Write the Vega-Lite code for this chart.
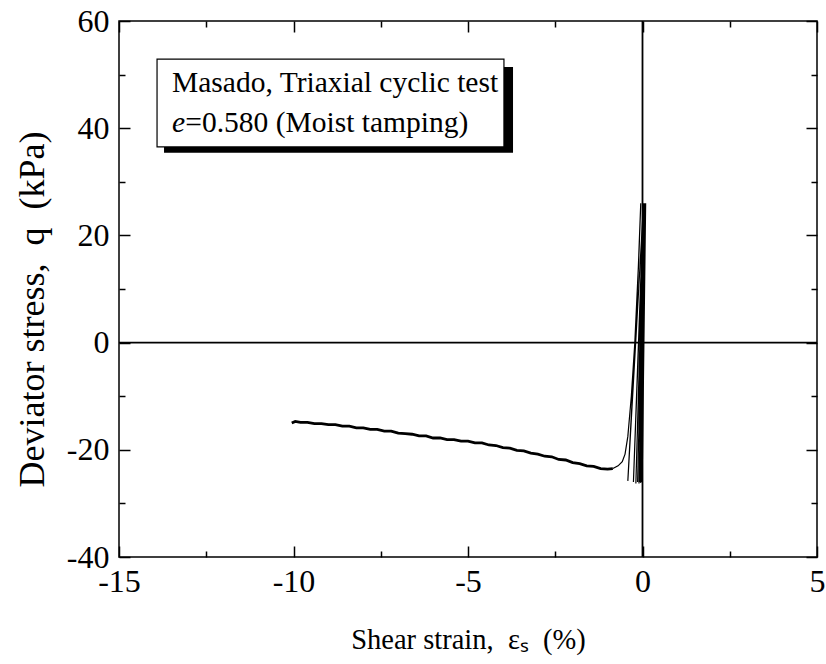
{
  "$schema": "https://vega.github.io/schema/vega-lite/v6.json",
  "width": 698,
  "height": 536,
  "autosize": "none",
  "padding": {"left": 119, "top": 21, "right": 9, "bottom": 107},
  "background": "white",
  "config": {
    "view": {"stroke": "black", "strokeWidth": 1.5},
    "font": "Liberation Serif",
    "axis": {
      "labelFont": "Liberation Serif",
      "titleFont": "Liberation Serif",
      "labelFontSize": 32,
      "titleFontSize": 28.5,
      "titleFontWeight": "normal",
      "labelColor": "black",
      "titleColor": "black",
      "grid": false,
      "domain": false,
      "tickColor": "black",
      "tickWidth": 1.5,
      "labelOverlap": false,
      "labelFlush": false
    }
  },
  "datasets": {
    "shadow": [{"x0": -13.71, "x1": -3.71, "q0": 35.4, "q1": 51.4}],
    "box": [{"x0": -13.91, "x1": -3.97, "q0": 36.5, "q1": 52.9}],
    "labels": [
      {"tx": -13.48, "ty": 46.75, "label": "Masado, Triaxial cyclic test"},
      {"tx": -13.1, "ty": 39.3, "label": "=0.580 (Moist tamping)"}
    ],
    "italic": [{"tx": -13.48, "ty": 39.3, "label": "e"}],
    "cyc": [
      {"i": 0, "eps": 0.0, "q": 0.0},
      {"i": 1, "eps": 0.09, "q": 26.0},
      {"i": 2, "eps": -0.01, "q": -26.0},
      {"i": 3, "eps": 0.09, "q": 26.0},
      {"i": 4, "eps": -0.03, "q": -26.0},
      {"i": 5, "eps": 0.08, "q": 26.0},
      {"i": 6, "eps": -0.05, "q": -26.2},
      {"i": 7, "eps": 0.08, "q": 26.0},
      {"i": 8, "eps": -0.07, "q": -26.0},
      {"i": 9, "eps": 0.07, "q": 26.0},
      {"i": 10, "eps": -0.1, "q": -26.3},
      {"i": 11, "eps": 0.06, "q": 26.0},
      {"i": 12, "eps": -0.14, "q": -26.0},
      {"i": 13, "eps": 0.05, "q": 26.0},
      {"i": 14, "eps": -0.19, "q": -26.3},
      {"i": 15, "eps": 0.04, "q": 26.0},
      {"i": 16, "eps": -0.26, "q": -26.0},
      {"i": 17, "eps": 0.03, "q": 26.0},
      {"i": 18, "eps": -0.42, "q": -25.8},
      {"i": 19, "eps": -0.25, "q": -5.0},
      {"i": 20, "eps": -0.11, "q": 15.0},
      {"i": 21, "eps": -0.05, "q": 26.0},
      {"i": 22, "eps": -0.12, "q": 14.0},
      {"i": 23, "eps": -0.22, "q": 0.0},
      {"i": 24, "eps": -0.32, "q": -10.0},
      {"i": 25, "eps": -0.42, "q": -17.5},
      {"i": 26, "eps": -0.5, "q": -20.8},
      {"i": 27, "eps": -0.58, "q": -22.2},
      {"i": 28, "eps": -0.7, "q": -23.0},
      {"i": 29, "eps": -0.85, "q": -23.5}
    ],
    "run": [
      {"i": 0, "eps": -0.85, "q": -23.5},
      {"i": 1, "eps": -1.0, "q": -23.6},
      {"i": 2, "eps": -1.2, "q": -23.5},
      {"i": 3, "eps": -1.4, "q": -23.1},
      {"i": 4, "eps": -1.6, "q": -23.0},
      {"i": 5, "eps": -1.8, "q": -22.6},
      {"i": 6, "eps": -2.0, "q": -22.4},
      {"i": 7, "eps": -2.2, "q": -21.9},
      {"i": 8, "eps": -2.4, "q": -21.8},
      {"i": 9, "eps": -2.6, "q": -21.3},
      {"i": 10, "eps": -2.8, "q": -21.2},
      {"i": 11, "eps": -3.0, "q": -20.8},
      {"i": 12, "eps": -3.2, "q": -20.6},
      {"i": 13, "eps": -3.4, "q": -20.2},
      {"i": 14, "eps": -3.6, "q": -20.1},
      {"i": 15, "eps": -3.8, "q": -19.7},
      {"i": 16, "eps": -4.0, "q": -19.6},
      {"i": 17, "eps": -4.2, "q": -19.2},
      {"i": 18, "eps": -4.4, "q": -19.1},
      {"i": 19, "eps": -4.6, "q": -18.7},
      {"i": 20, "eps": -4.8, "q": -18.7},
      {"i": 21, "eps": -5.0, "q": -18.4},
      {"i": 22, "eps": -5.2, "q": -18.4},
      {"i": 23, "eps": -5.4, "q": -18.1},
      {"i": 24, "eps": -5.6, "q": -18.1},
      {"i": 25, "eps": -5.8, "q": -17.8},
      {"i": 26, "eps": -6.0, "q": -17.8},
      {"i": 27, "eps": -6.2, "q": -17.4},
      {"i": 28, "eps": -6.4, "q": -17.4},
      {"i": 29, "eps": -6.6, "q": -17.1},
      {"i": 30, "eps": -6.8, "q": -17.0},
      {"i": 31, "eps": -7.0, "q": -16.9},
      {"i": 32, "eps": -7.2, "q": -16.5},
      {"i": 33, "eps": -7.4, "q": -16.5},
      {"i": 34, "eps": -7.6, "q": -16.2},
      {"i": 35, "eps": -7.8, "q": -16.2},
      {"i": 36, "eps": -8.0, "q": -15.9},
      {"i": 37, "eps": -8.2, "q": -15.9},
      {"i": 38, "eps": -8.4, "q": -15.6},
      {"i": 39, "eps": -8.6, "q": -15.6},
      {"i": 40, "eps": -8.8, "q": -15.3},
      {"i": 41, "eps": -9.0, "q": -15.3},
      {"i": 42, "eps": -9.2, "q": -15.1},
      {"i": 43, "eps": -9.4, "q": -15.1},
      {"i": 44, "eps": -9.6, "q": -14.9},
      {"i": 45, "eps": -9.8, "q": -14.9},
      {"i": 46, "eps": -9.95, "q": -14.7},
      {"i": 47, "eps": -10.05, "q": -15.0}
    ]
  },
  "layer": [
    {
      "data": {"name": "shadow"},
      "mark": {"type": "rect", "color": "black"},
      "encoding": {
        "x": {"field": "x0", "type": "quantitative", "scale": {"domain": [-15, 5], "nice": false}, "axis": null},
        "x2": {"field": "x1"},
        "y": {"field": "q0", "type": "quantitative", "scale": {"domain": [-40, 60], "nice": false}, "axis": null},
        "y2": {"field": "q1"}
      }
    },
    {
      "data": {"name": "box"},
      "mark": {"type": "rect", "fill": "white", "stroke": "black", "strokeWidth": 1.2},
      "encoding": {
        "x": {"field": "x0", "type": "quantitative", "axis": null},
        "x2": {"field": "x1"},
        "y": {"field": "q0", "type": "quantitative", "axis": null},
        "y2": {"field": "q1"}
      }
    },
    {
      "data": {"name": "labels"},
      "mark": {"type": "text", "font": "Liberation Serif", "fontSize": 29.5, "align": "left", "baseline": "alphabetic", "color": "black"},
      "encoding": {
        "x": {"field": "tx", "type": "quantitative", "axis": null},
        "y": {"field": "ty", "type": "quantitative", "axis": null},
        "text": {"field": "label"}
      }
    },
    {
      "data": {"name": "italic"},
      "mark": {"type": "text", "font": "Liberation Serif", "fontSize": 29.5, "fontStyle": "italic", "align": "left", "baseline": "alphabetic", "color": "black"},
      "encoding": {
        "x": {"field": "tx", "type": "quantitative", "axis": null},
        "y": {"field": "ty", "type": "quantitative", "axis": null},
        "text": {"field": "label"}
      }
    },
    {
      "data": {"values": [{}]},
      "mark": {"type": "rule", "color": "black", "strokeWidth": 1.8},
      "encoding": {
        "x": {
          "datum": 0, "type": "quantitative",
          "axis": {
            "orient": "top",
            "values": [-15, -12.5, -10, -7.5, -5, -2.5, 0, 2.5, 5],
            "labels": false,
            "title": null,
            "tickSize": {"condition": {"test": "datum.value % 5 === 0", "value": -11}, "value": -6}
          }
        }
      }
    },
    {
      "data": {"values": [{}]},
      "mark": {"type": "rule", "color": "black", "strokeWidth": 1.8},
      "encoding": {
        "y": {
          "datum": 0, "type": "quantitative",
          "axis": {
            "orient": "right",
            "values": [-40, -30, -20, -10, 0, 10, 20, 30, 40, 50, 60],
            "labels": false,
            "title": null,
            "tickSize": {"condition": {"test": "datum.value % 20 === 0", "value": -11}, "value": -6}
          }
        }
      }
    },
    {
      "data": {"name": "cyc"},
      "mark": {"type": "line", "color": "black", "strokeWidth": 1.2},
      "encoding": {
        "x": {"field": "eps", "type": "quantitative", "axis": null},
        "y": {"field": "q", "type": "quantitative", "axis": null},
        "order": {"field": "i", "type": "quantitative"}
      }
    },
    {
      "data": {"name": "run"},
      "mark": {"type": "line", "color": "black", "strokeWidth": 2.8},
      "encoding": {
        "x": {
          "field": "eps", "type": "quantitative",
          "axis": {
            "orient": "bottom",
            "values": [-15, -12.5, -10, -7.5, -5, -2.5, 0, 2.5, 5],
            "labelExpr": "datum.value % 5 === 0 ? '' + datum.value : ''",
            "tickSize": {"condition": {"test": "datum.value % 5 === 0", "value": -11}, "value": -6},
            "labelPadding": 20,
            "title": "Shear strain, \u00a0εₛ\u00a0 (%)",
            "titlePadding": 23
          }
        },
        "y": {
          "field": "q", "type": "quantitative",
          "axis": {
            "orient": "left",
            "values": [-40, -30, -20, -10, 0, 10, 20, 30, 40, 50, 60],
            "labelExpr": "datum.value % 20 === 0 ? '' + datum.value : ''",
            "tickSize": {"condition": {"test": "datum.value % 20 === 0", "value": -11}, "value": -6},
            "labelPadding": 21,
            "title": "Deviator stress, \u00a0q\u00a0 (kPa)",
            "titleFontSize": 36,
            "titlePadding": 15,
            "titleY": 288
          }
        },
        "order": {"field": "i", "type": "quantitative"}
      }
    }
  ],
  "resolve": {"axis": {"x": "independent", "y": "independent"}}
}
